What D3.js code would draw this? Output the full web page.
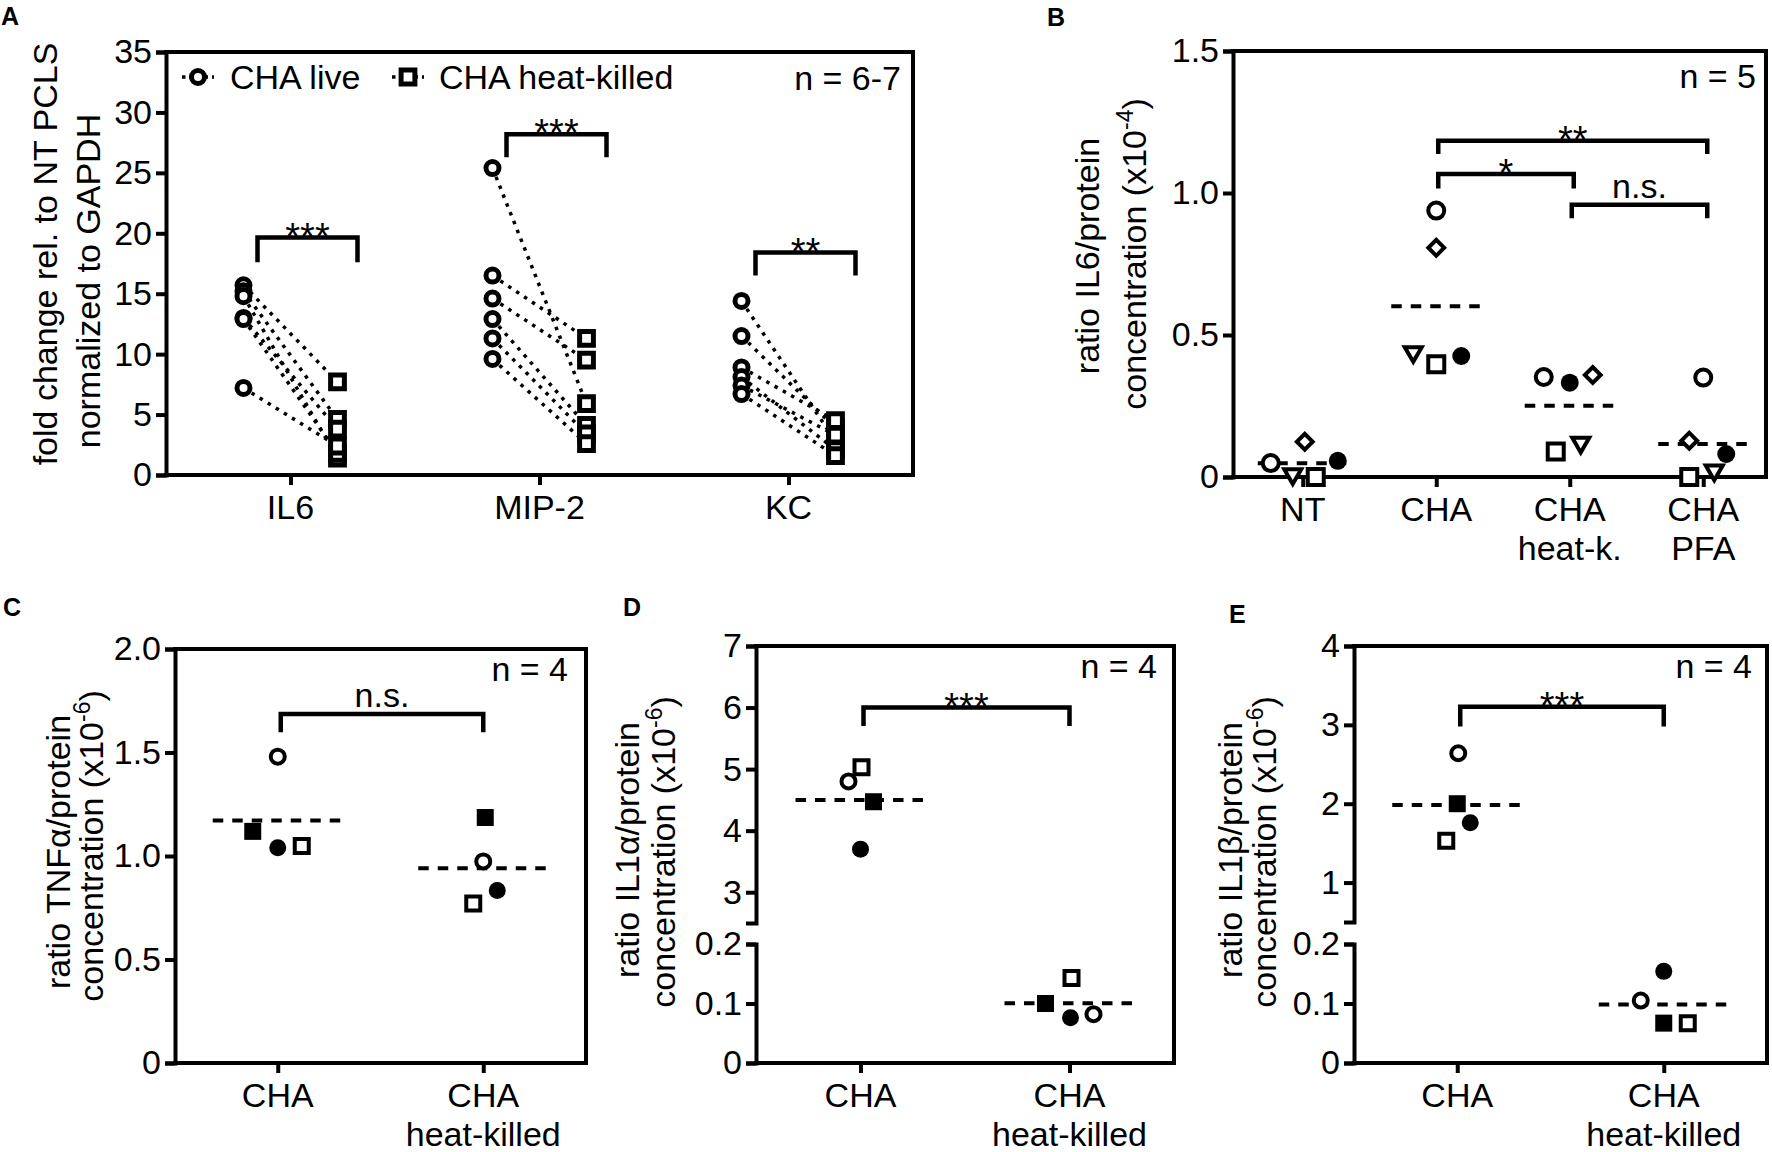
<!DOCTYPE html>
<html>
<head>
<meta charset="utf-8">
<script src="https://cdn.jsdelivr.net/npm/d3@7"></script>
<style>
  body { margin: 0; background: #fff; }
  svg text { font-family: "Liberation Sans", Arial, sans-serif; fill: #000; }
</style>
</head>
<body>
<div id="chart"></div>
<script>
// ---- data ----

// A: paired samples, live vs heat-killed
const aCategories = ['IL6', 'MIP-2', 'KC'];
const aLive = [
  [15.7, 15.2, 14.8, 13.0, 12.9, 7.2],
  [25.4, 16.5, 14.6, 12.9, 11.3, 9.6],
  [14.4, 11.5, 8.9, 8.1, 7.4, 6.7]
];
const aHeatKilled = [
  [7.7, 4.6, 1.4, 3.8, 1.8, 2.4],
  [5.9, 11.3, 9.5, 4.1, 3.4, 2.6],
  [2.8, 3.9, 4.5, 2.1, 3.3, 1.6]
];
const aTicks = [0, 5, 10, 15, 20, 25, 30, 35];
const aBrackets = [
  {cat: 'IL6', top: 19.65, leg: 17.6, label: '***'},
  {cat: 'MIP-2', top: 28.2, leg: 26.3, label: '***'},
  {cat: 'KC', top: 18.4, leg: 16.5, label: '**'}
];

// B: IL6 ratio, 5 donors (one symbol each)
const bCategories = ['NT', 'CHA', 'CHA heat-k.', 'CHA PFA'];
const bLabels = [['NT'], ['CHA'], ['CHA', 'heat-k.'], ['CHA', 'PFA']];
const bShapes = ['circle', 'triangle', 'square', 'diamond', 'dot'];
const bValues = [
  [0.049, 0.01, 0, 0.124, 0.057],
  [0.938, 0.44, 0.397, 0.807, 0.426],
  [0.352, 0.121, 0.09, 0.359, 0.332],
  [0.35, 0.023, 0, 0.128, 0.081]
];
const bTicks = [0, 0.5, 1.0, 1.5];
const bBrackets = [
  {from: 'CHA', to: 'CHA PFA', top: 1.184, leg: 1.137, label: '**'},
  {from: 'CHA', to: 'CHA heat-k.', top: 1.067, leg: 1.016, label: '*'},
  {from: 'CHA heat-k.', to: 'CHA PFA', top: 0.959, leg: 0.911, label: 'n.s.'}
];

// C, D, E: 4 donors
const cdeCategories = ['CHA', 'CHA heat-killed'];
const cdeLabels = [['CHA'], ['CHA', 'heat-killed']];
const cdeShapes = ['circle', 'squareFilled', 'dot', 'square'];

const cValues = [[1.48, 1.119, 1.04, 1.048], [0.974, 1.186, 0.833, 0.77]];
const cTicks = [0, 0.5, 1.0, 1.5, 2.0];
const cBracket = {top: 1.686, leg: 1.598, label: 'n.s.'};

const dValues = [[4.8, 4.47, 3.7, 5.03], [0.082, 0.1, 0.076, 0.143]];
const dTicksUpper = [3, 4, 5, 6, 7];
const dTicksLower = [0, 0.1, 0.2];
const dBracket = {top: 6.0, leg: 5.7, label: '***'};

const eValues = [[2.64, 2.0, 1.76, 1.53], [0.105, 0.067, 0.154, 0.067]];
const eTicksUpper = [1, 2, 3, 4];
const eTicksLower = [0, 0.1, 0.2];
const eBracket = {top: 3.23, leg: 2.98, label: '***'};

// ---- layout (horizontal scatter offsets, px) ----
const bJitter = [[-32, -10, 13, 2, 35], [0, -23, 0, 0, 25], [-26, 11, -14, 23, 0], [0, 11, -14, -14, 23]];
const cJitter = [[0, -25, 0, 24], [0, 2, 14, -10]];
const dJitter = [[-12, 13, 0, 1], [24, -24, 1, 2]];
const eJitter = [[1, 0, 13, -11], [-23, 0, 0, 24]];

const FS = 34;
const svg = d3.select('#chart').append('svg')
  .attr('width', 1772).attr('height', 1152);

const fmtInt = d3.format('d');
const fmtDec = d => d === 0 ? '0' : d3.format('.1f')(d);

const SYMBOLS = {
  circle: d3.symbolCircle, dot: d3.symbolCircle,
  square: d3.symbolSquare, squareFilled: d3.symbolSquare,
  diamond: d3.symbolSquare, triangle: d3.symbolTriangle
};

function marker(g, shape, x, y, sz) {
  const filled = shape === 'dot' || shape === 'squareFilled';
  const rot = shape === 'diamond' ? 45 : (shape === 'triangle' ? 180 : 0);
  g.append('path')
    .attr('d', d3.symbol(SYMBOLS[shape], sz[shape])())
    .attr('transform', `translate(${x},${y}) rotate(${rot})`)
    .attr('fill', filled ? '#000' : '#fff')
    .attr('stroke', filled ? 'none' : '#000')
    .attr('stroke-width', sz.stroke);
}

function styleAxis(sel) {
  sel.attr('font-size', FS).attr('font-family', null);
  sel.selectAll('path, line').attr('stroke', '#000').attr('stroke-width', 4);
  sel.selectAll('text').attr('fill', '#000');
}

function yTitle(g, x, y, parts) {
  // parts: [text, superscript, rest]
  const t = g.append('text')
    .attr('transform', `translate(${x},${y}) rotate(-90)`)
    .attr('text-anchor', 'middle')
    .attr('font-size', FS);
  t.append('tspan').text(parts[0]);
  if (parts[1]) {
    t.append('tspan').attr('font-size', 23).attr('dy', -13).text(parts[1]);
    t.append('tspan').attr('dy', 13).text(parts[2]);
  }
}

function panel(o) {
  const g = svg.append('g');
  const x = d3.scalePoint().domain(o.categories)
    .range(o.xRange || [o.left, o.right]).padding(0.5);

  // frame: top, right, bottom
  g.append('path')
    .attr('d', `M${o.left},${o.top}H${o.right}V${o.bottom}H${o.left}`)
    .attr('fill', 'none').attr('stroke', '#000').attr('stroke-width', 4)
    .attr('stroke-linecap', 'square');

  o.segments.forEach(s => {
    g.append('g')
      .attr('transform', `translate(${o.left},0)`)
      .call(d3.axisLeft(s.scale).tickValues(s.ticks).tickFormat(s.fmt)
        .tickSize(10).tickSizeOuter(10).tickPadding(4))
      .call(styleAxis);
  });

  g.append('g')
    .attr('transform', `translate(0,${o.bottom})`)
    .call(d3.axisBottom(x).tickSize(10).tickFormat(''))
    .call(a => a.select('.domain').remove())
    .call(styleAxis);

  o.labels.forEach((lines, i) => {
    const t = g.append('text')
      .attr('x', x(o.categories[i])).attr('y', o.bottom + 44)
      .attr('text-anchor', 'middle').attr('font-size', FS);
    lines.forEach((l, j) => {
      t.append('tspan').attr('x', x(o.categories[i])).attr('dy', j ? 39 : 0).text(l);
    });
  });

  g.append('text')
    .attr('x', o.right - o.nInset).attr('y', o.top + o.nDrop)
    .attr('text-anchor', 'end').attr('font-size', FS).text(o.nText);

  g.append('text')
    .attr('x', o.letter[0]).attr('y', o.letter[1])
    .attr('font-size', 25).attr('font-weight', 'bold').text(o.letter[2]);

  o.titles.forEach(tl => yTitle(g, tl.x, tl.y, tl.parts));
  return {g, x};
}

function bracket(g, x1, x2, yTop, yLeg, label) {
  g.append('path')
    .attr('d', `M${x1},${yLeg}V${yTop}H${x2}V${yLeg}`)
    .attr('fill', 'none').attr('stroke', '#000').attr('stroke-width', 4.5);
  const stars = label.indexOf('*') >= 0;
  g.append('text')
    .attr('x', (x1 + x2) / 2)
    .attr('y', stars ? yTop + 12 : yTop - 7)
    .attr('text-anchor', 'middle')
    .attr('font-size', stars ? 38 : FS)
    .text(label);
}

function meanLine(g, cx, y, half) {
  g.append('line')
    .attr('x1', cx - half).attr('x2', cx + half)
    .attr('y1', y).attr('y2', y)
    .attr('stroke', '#000').attr('stroke-width', 4)
    .attr('stroke-dasharray', '10.5,9');
}

// ---- panel A ----
(function() {
  const yA = d3.scaleLinear().domain([0, 35]).range([475, 52]);
  const p = panel({
    left: 166, right: 913, top: 52, bottom: 475,
    categories: aCategories, labels: aCategories.map(c => [c]),
    segments: [{scale: yA, ticks: aTicks, fmt: fmtInt}],
    nText: 'n = 6-7', nInset: 12, nDrop: 38,
    letter: [1, 25, 'A'],
    titles: [
      {x: 57, y: 254, parts: ['fold change rel. to NT PCLS']},
      {x: 100, y: 281, parts: ['normalized to GAPDH']}
    ]
  });
  const sz = {circle: 133, square: 190, stroke: 5};
  const off = 47;
  aCategories.forEach((c, i) => {
    const cx = p.x(c);
    aLive[i].forEach((v, j) => {
      p.g.append('line')
        .attr('x1', cx - off).attr('y1', yA(v))
        .attr('x2', cx + off).attr('y2', yA(aHeatKilled[i][j]))
        .attr('stroke', '#000').attr('stroke-width', 3.5)
        .attr('stroke-dasharray', '3.5,6');
    });
  });
  aCategories.forEach((c, i) => {
    const cx = p.x(c);
    aLive[i].forEach(v => marker(p.g, 'circle', cx - off, yA(v), sz));
    aHeatKilled[i].forEach(v => marker(p.g, 'square', cx + off, yA(v), sz));
  });
  aBrackets.forEach(b => {
    const cx = p.x(b.cat);
    bracket(p.g, cx - 33, cx + 67, yA(b.top), yA(b.leg), b.label);
  });
  // legend
  [['circle', 198, 230, 'CHA live'], ['square', 408, 439, 'CHA heat-killed']].forEach(l => {
    p.g.append('line')
      .attr('x1', l[1] - 16).attr('x2', l[1] + 16).attr('y1', 77).attr('y2', 77)
      .attr('stroke', '#000').attr('stroke-width', 3.5).attr('stroke-dasharray', '3.5,4');
    marker(p.g, l[0], l[1], 77, sz);
    p.g.append('text').attr('x', l[2]).attr('y', 89).attr('font-size', FS).text(l[3]);
  });
})();

// ---- panel B ----
(function() {
  const yB = d3.scaleLinear().domain([0, 1.5]).range([477, 51]);
  const p = panel({
    left: 1233, right: 1766, top: 51, bottom: 477, xRange: [1236, 1770],
    categories: bCategories, labels: bLabels,
    segments: [{scale: yB, ticks: bTicks, fmt: fmtDec}],
    nText: 'n = 5', nInset: 10, nDrop: 37,
    letter: [1047, 26, 'B'],
    titles: [
      {x: 1099, y: 256, parts: ['ratio IL6/protein']},
      {x: 1146, y: 254, parts: ['concentration (x10', '-4', ')']}
    ]
  });
  const sz = {circle: 201, dot: 254, square: 256, diamond: 125, triangle: 125, stroke: 4};
  bCategories.forEach((c, i) => {
    meanLine(p.g, p.x(c), yB(d3.mean(bValues[i])), 45);
    bValues[i].forEach((v, j) => marker(p.g, bShapes[j], p.x(c) + bJitter[i][j], yB(v), sz));
  });
  bBrackets.forEach(b => bracket(p.g, p.x(b.from) + 2, p.x(b.to) + 4, yB(b.top), yB(b.leg), b.label));
})();

// ---- panels C, D, E ----
const szCDE = {circle: 154, dot: 227, square: 196, squareFilled: 289, stroke: 4};

function smallPanel(o, values, jitter, br) {
  const p = panel(Object.assign({
    categories: cdeCategories, labels: cdeLabels, nText: 'n = 4', nDrop: 32
  }, o));
  const y = o.y;
  cdeCategories.forEach((c, i) => {
    meanLine(p.g, p.x(c), y(d3.mean(values[i])), 65);
    values[i].forEach((v, j) => marker(p.g, cdeShapes[j], p.x(c) + jitter[i][j], y(v), szCDE));
  });
  const ys = o.bracketScale || y;
  bracket(p.g, p.x(cdeCategories[0]) + 3, p.x(cdeCategories[1]), ys(br.top), ys(br.leg), br.label);
}

(function() {
  const yC = d3.scaleLinear().domain([0, 2]).range([1063, 649]);
  smallPanel({
    left: 175, right: 586, top: 649, bottom: 1063, nInset: 18,
    segments: [{scale: yC, ticks: cTicks, fmt: fmtDec}], y: yC,
    letter: [3, 616, 'C'],
    titles: [
      {x: 70, y: 852, parts: ['ratio TNFα/protein']},
      {x: 103, y: 846, parts: ['concentration (x10', '-6', ')']}
    ]
  }, cValues, cJitter, cBracket);
})();

function brokenScale(upper, lower) {
  return v => v >= upper.domain()[0] ? upper(v) : lower(v);
}

(function() {
  const up = d3.scaleLinear().domain([2.5, 7]).range([923, 646]);
  const lo = d3.scaleLinear().domain([0, 0.2]).range([1063, 944]);
  smallPanel({
    left: 756, right: 1174, top: 646, bottom: 1063, nInset: 17,
    segments: [{scale: up, ticks: dTicksUpper, fmt: fmtInt}, {scale: lo, ticks: dTicksLower, fmt: fmtDec}],
    y: brokenScale(up, lo), bracketScale: up,
    letter: [623, 616, 'D'],
    titles: [
      {x: 639, y: 850, parts: ['ratio IL1α/protein']},
      {x: 675, y: 852, parts: ['concentration (x10', '-6', ')']}
    ]
  }, dValues, dJitter, dBracket);
})();

(function() {
  const up = d3.scaleLinear().domain([0.5, 4]).range([922, 646]);
  const lo = d3.scaleLinear().domain([0, 0.2]).range([1063, 944]);
  smallPanel({
    left: 1354, right: 1767, top: 646, bottom: 1063, nInset: 15,
    segments: [{scale: up, ticks: eTicksUpper, fmt: fmtInt}, {scale: lo, ticks: eTicksLower, fmt: fmtDec}],
    y: brokenScale(up, lo), bracketScale: up,
    letter: [1229, 623, 'E'],
    titles: [
      {x: 1242, y: 850, parts: ['ratio IL1β/protein']},
      {x: 1276, y: 852, parts: ['concentration (x10', '-6', ')']}
    ]
  }, eValues, eJitter, eBracket);
})();
</script>
</body>
</html>
